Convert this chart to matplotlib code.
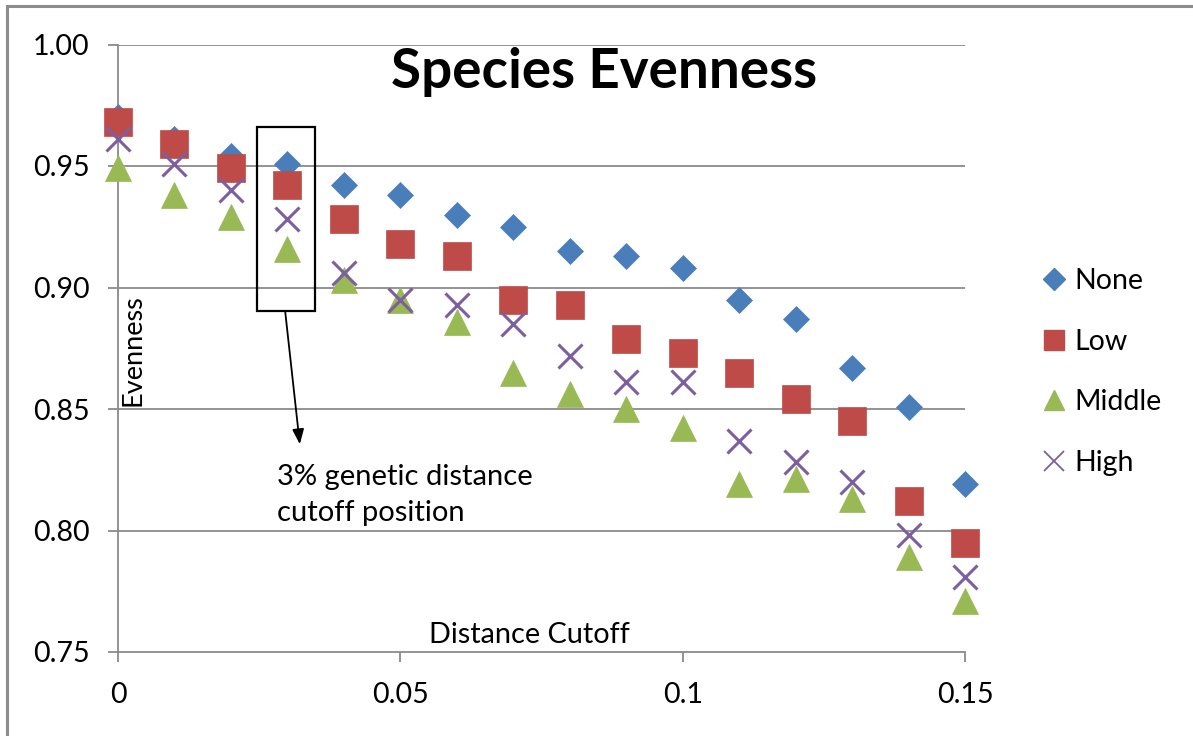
import matplotlib
matplotlib.use("Agg")
import matplotlib.pyplot as plt
from matplotlib.patches import Rectangle
from matplotlib.lines import Line2D

# ---- data ----
distance = [0.00, 0.01, 0.02, 0.03, 0.04, 0.05, 0.06, 0.07,
            0.08, 0.09, 0.10, 0.11, 0.12, 0.13, 0.14, 0.15]
none_vals = [0.970, 0.961, 0.954, 0.951, 0.942, 0.938, 0.930, 0.925,
             0.915, 0.913, 0.908, 0.895, 0.887, 0.867, 0.851, 0.819]
low_vals = [0.968, 0.959, 0.949, 0.942, 0.928, 0.918, 0.913, 0.895,
            0.893, 0.879, 0.873, 0.865, 0.854, 0.845, 0.812, 0.795]
middle_vals = [0.949, 0.938, 0.929, 0.916, 0.903, 0.895, 0.886, 0.865,
               0.856, 0.850, 0.842, 0.819, 0.821, 0.813, 0.789, 0.771]
high_vals = [0.961, 0.951, 0.940, 0.928, 0.906, 0.895, 0.893, 0.885,
             0.872, 0.861, 0.861, 0.837, 0.828, 0.820, 0.798, 0.781]
series_names = ["None", "Low", "Middle", "High"]
x_ticks = [0, 0.05, 0.1, 0.15]
x_tick_labels = ["0", "0.05", "0.1", "0.15"]
y_ticks = [0.75, 0.80, 0.85, 0.90, 0.95, 1.00]
y_tick_labels = ["0.75", "0.80", "0.85", "0.90", "0.95", "1.00"]

W, H = 1193, 736
FONT = "Lato"
plt.rcParams["font.family"] = [FONT, "DejaVu Sans"]

fig = plt.figure(figsize=(W / 100, H / 100), dpi=100)
fig.patch.set_facecolor("white")

# outer chart border (extends past right/bottom edges)
fig.patches.append(Rectangle((7 / W, -0.05), 1.5, 1 - 6 / H + 0.05,
                             transform=fig.transFigure, fill=False,
                             edgecolor="#8c8c8c", linewidth=2.2))

ax = fig.add_axes([118 / W, 1 - 652 / H, 847 / W, 607.5 / H])
ax.set_xlim(0, 0.15)
ax.set_ylim(0.75, 1.00)

grid_c = "#8a8a8a"
for yv in y_ticks[1:]:
    ax.axhline(yv, color=grid_c, linewidth=1.3, zorder=0)

colors = ["#4a7ebb", "#be4b48", "#98b954", "#7d5fa0"]
markers = ["D", "s", "^", "x"]
sizes = [13.5, 19.5, 19.0, 17.5]
all_vals = [none_vals, low_vals, middle_vals, high_vals]
for vals, c, m, s, name in zip(all_vals, colors, markers, sizes, series_names):
    if m == "x":
        ax.plot(distance, vals, linestyle="none", marker=m, markersize=s,
                markeredgecolor=c, markeredgewidth=2.2, zorder=3,
                clip_on=False, label=name)
    else:
        ax.plot(distance, vals, linestyle="none", marker=m, markersize=s,
                markerfacecolor=c, markeredgecolor=c, markeredgewidth=0.5,
                zorder=3, clip_on=False, label=name)

for sp in ["top", "right"]:
    ax.spines[sp].set_visible(False)
for sp in ["left", "bottom"]:
    ax.spines[sp].set_color(grid_c)
    ax.spines[sp].set_linewidth(1.3)

ax.set_xticks(x_ticks)
ax.set_xticklabels(x_tick_labels)
ax.set_yticks(y_ticks)
ax.set_yticklabels(y_tick_labels)
ax.tick_params(axis="both", direction="out", length=7.5, width=1.3,
               color=grid_c, labelsize=20.5, labelcolor="black")
ax.tick_params(axis="x", pad=14)
ax.tick_params(axis="y", pad=13)

# title inside plot
fig.text(604 / W, 1 - 72 / H, "Species Evenness", fontsize=39.4,
         fontweight="bold", ha="center", va="center")

# axis labels placed inside plot area as in reference
fig.text(133 / W, 1 - 350 / H, "Evenness", rotation=90, fontsize=19.5,
         ha="center", va="center")
fig.text(529 / W, 1 - 635 / H, "Distance Cutoff", fontsize=20.8,
         ha="center", va="center")

# annotation box around 3% cutoff
ax.add_patch(Rectangle((0.0246, 0.8903), 0.0349 - 0.0246, 0.9662 - 0.8903,
                       fill=False, edgecolor="black", linewidth=1.6, zorder=4))
ax.annotate("", xy=(0.0322, 0.8355), xytext=(0.0296, 0.8903),
            arrowprops=dict(arrowstyle="-|>,head_length=0.9,head_width=0.35",
                            color="black", linewidth=1.3, shrinkA=0, shrinkB=0),
            zorder=4)
fig.text(277 / W, 1 - 495 / H, "3% genetic distance\ncutoff position",
         fontsize=21, ha="left", va="center", linespacing=1.5)

# legend
handles = [Line2D([], [], linestyle="none", marker="D", markersize=11.5,
                  markerfacecolor=colors[0], markeredgecolor=colors[0]),
           Line2D([], [], linestyle="none", marker="s", markersize=15,
                  markerfacecolor=colors[1], markeredgecolor=colors[1]),
           Line2D([], [], linestyle="none", marker="^", markersize=15,
                  markerfacecolor=colors[2], markeredgecolor=colors[2]),
           Line2D([], [], linestyle="none", marker="x", markersize=14,
                  markeredgecolor=colors[3], markeredgewidth=1.3)]
fig.legend(handles, series_names, loc="center left",
           bbox_to_anchor=(1040 / W, 1 - 372 / H), frameon=False,
           fontsize=20.5, handlelength=1.0, handletextpad=0.2,
           labelspacing=1.22, borderpad=0, borderaxespad=0)

fig.savefig("out.png", dpi=100)
